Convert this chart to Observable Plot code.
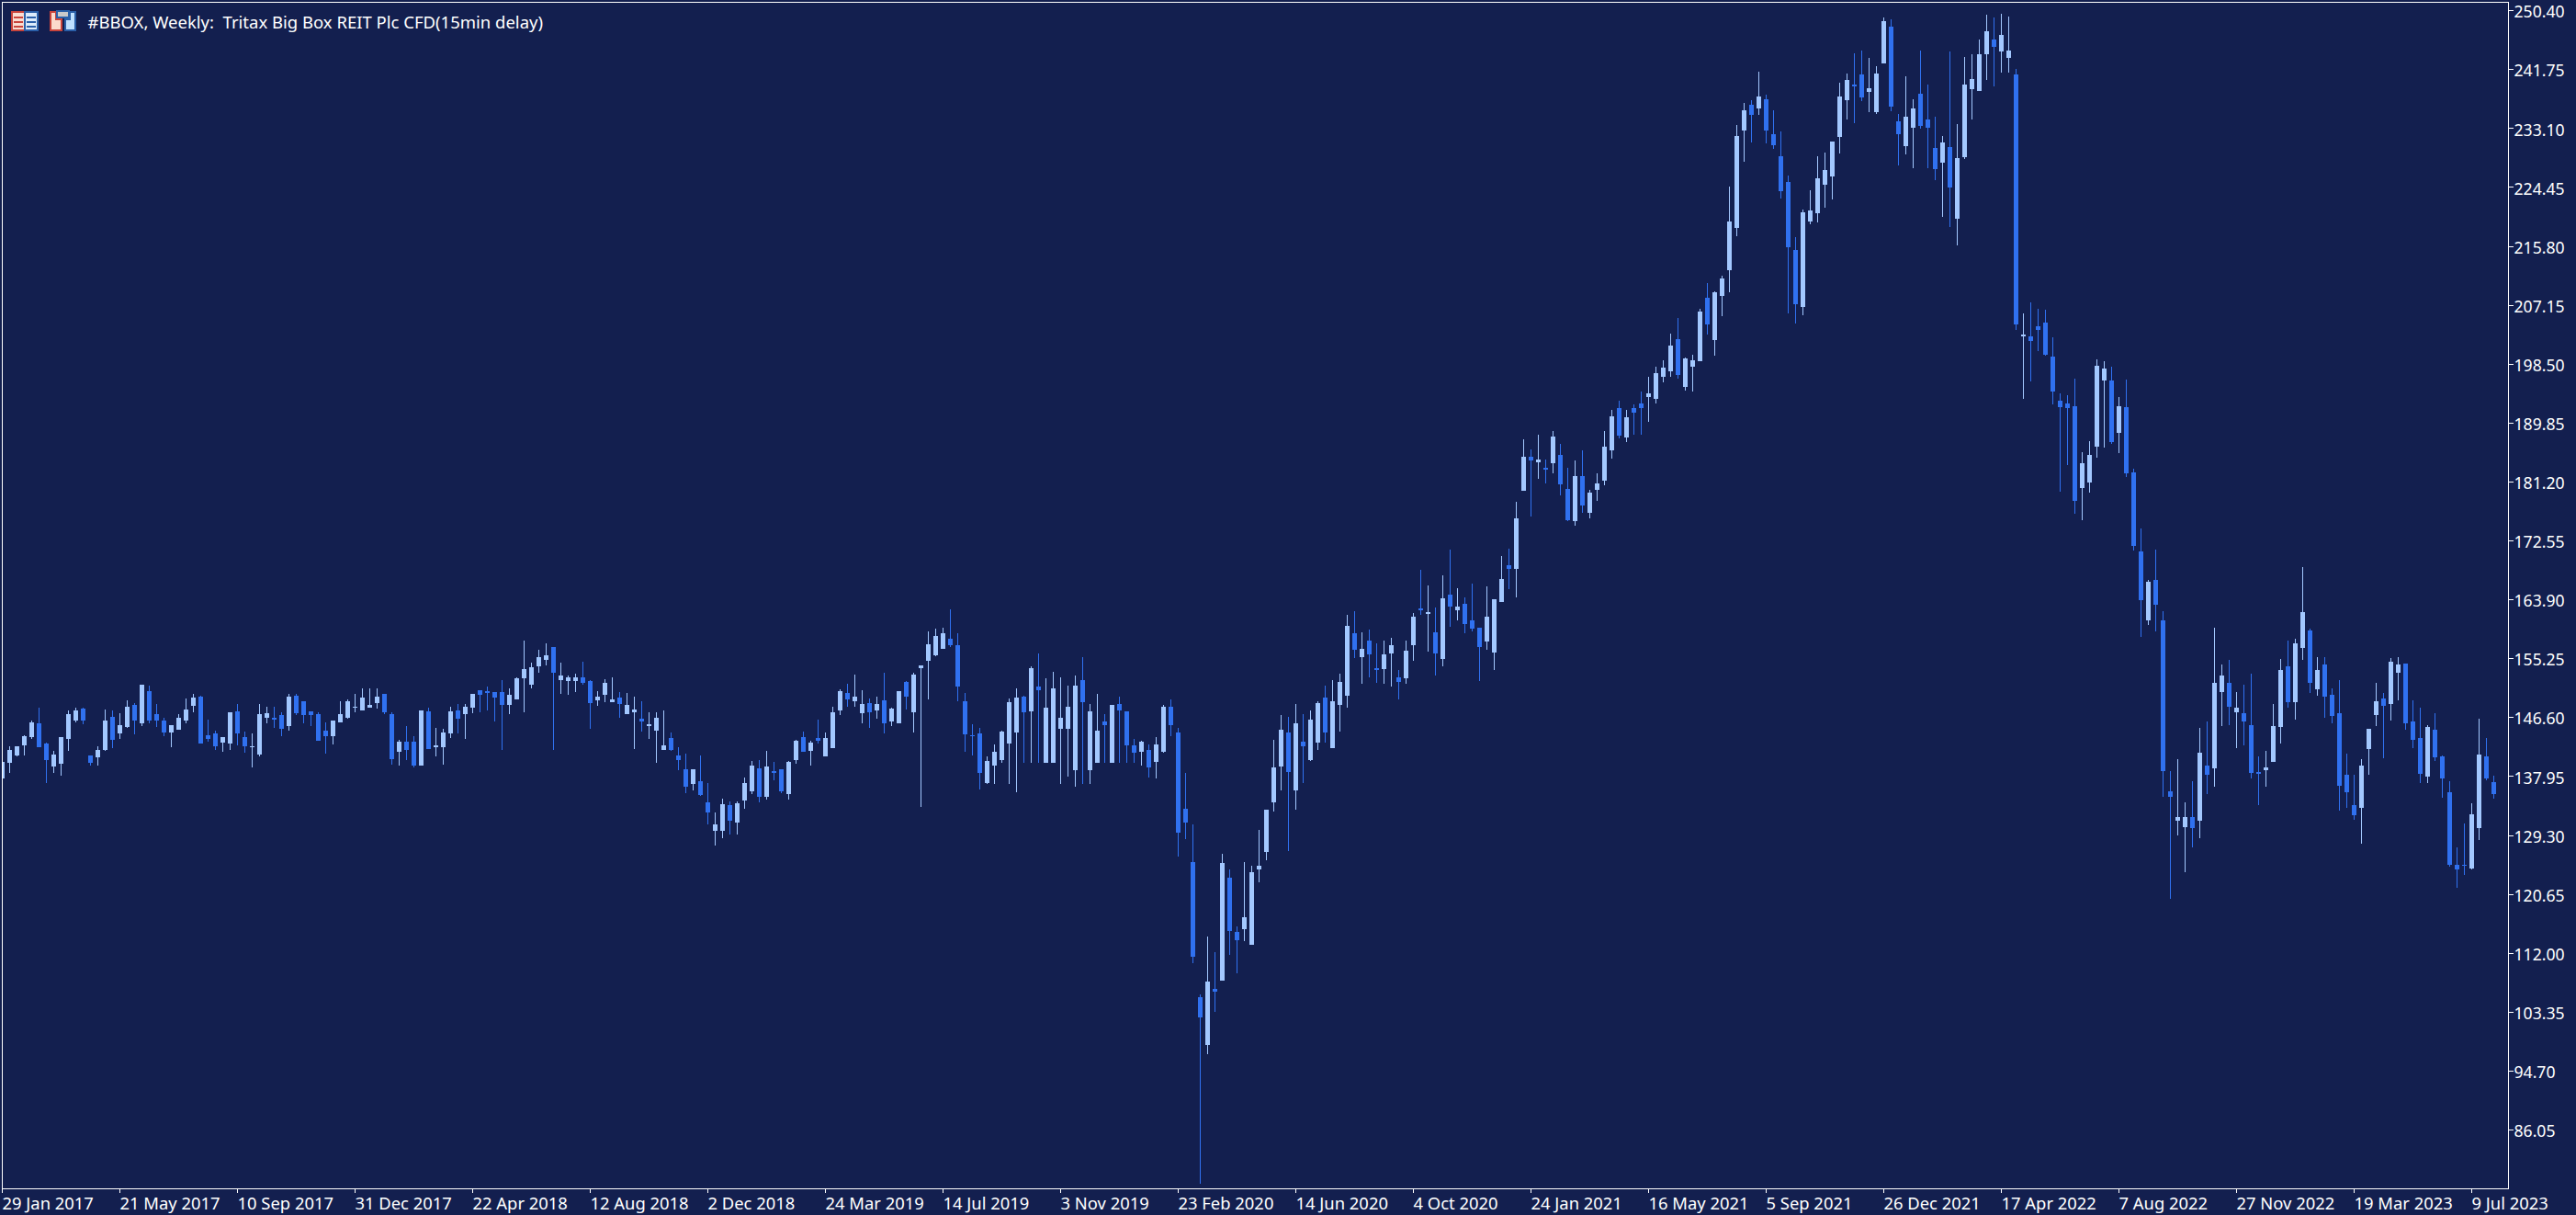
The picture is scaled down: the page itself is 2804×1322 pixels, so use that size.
<!DOCTYPE html>
<html>
<head>
<meta charset="utf-8">
<style>
html,body{margin:0;padding:0;background:#131F4F;overflow:hidden}
#wrap{position:relative;width:2804px;height:1322px}
#icons{position:absolute;left:0;top:0}
#chart svg{display:block;shape-rendering:crispEdges}
</style>
<script src="https://cdn.jsdelivr.net/npm/d3@7"></script>
<script src="https://cdn.jsdelivr.net/npm/@observablehq/plot@0.6"></script>
</head>
<body>
<div id="wrap"><div id="chart"></div>
<svg id="icons" width="90" height="44" shape-rendering="crispEdges">
<rect x="13" y="13" width="14" height="20" fill="#F9DDD2" stroke="#C8443C" stroke-width="2"/>
<rect x="27" y="13" width="14" height="20" fill="#DCEBFA" stroke="#2A5FA8" stroke-width="2"/>
<path d="M15 19h10M15 24h10M15 29h10" stroke="#C8443C" stroke-width="2"/>
<path d="M29 19h10M29 24h10M29 29h10" stroke="#2A5FA8" stroke-width="2"/>
<path d="M55 13h6v8h6v12h-12z" fill="#FBD9CC" stroke="#C8443C" stroke-width="2"/>
<path d="M71 21h5v-8h6v20h-11z" fill="#BFE0FF" stroke="#2A5FA8" stroke-width="2"/>
<rect x="62" y="12" width="13" height="7" fill="#C9C9C9" stroke="#2A5FA8" stroke-width="2"/>
</svg>
</div>
<script>
const chartTitle = "#BBOX, Weekly:  Tritax Big Box REIT Plc CFD(15min delay)";
const firstWeek = "2017-01-29";
const priceTicks = [250.40,241.75,233.10,224.45,215.80,207.15,198.50,189.85,181.20,172.55,163.90,155.25,146.60,137.95,129.30,120.65,112.00,103.35,94.70,86.05];
const dateTicks = ["2017-01-29","2017-05-21","2017-09-10","2017-12-31","2018-04-22","2018-08-12","2018-12-02","2019-03-24","2019-07-14","2019-11-03","2020-02-23","2020-06-14","2020-10-04","2021-01-24","2021-05-16","2021-09-05","2021-12-26","2022-04-17","2022-08-07","2022-11-27","2023-03-19","2023-07-09"];
// each week: [open, high, low, close]
const weeks2017 = [[137.6,140.0,137.6,140.0],[139.9,142.3,138.4,141.8],[141.0,142.3,140.8,142.3],[142.5,143.9,141.0,143.8],[143.7,146.1,143.4,145.8],[145.7,148.0,142.2,142.2],[142.7,142.9,136.9,140.3],[139.4,141.6,138.4,141.1],[139.8,143.7,138.0,143.7],[143.4,147.6,141.6,147.0],[146.1,148.0,145.8,147.6],[147.9,148.0,145.6,146.1],[141.0,141.0,139.5,139.9],[140.7,142.3,139.5,141.8],[141.8,147.7,141.6,146.1],[146.6,147.6,142.1,143.3],[144.2,147.2,143.4,145.4],[145.2,149.1,145.0,148.1],[148.4,148.7,144.1,146.1],[145.7,151.4,145.3,151.4],[150.4,151.2,145.7,146.1],[147.0,148.5,145.2,146.1],[146.1,146.5,143.8,144.4],[144.4,145.4,142.2,145.4],[144.8,147.0,144.8,146.5],[146.1,149.3,145.7,147.7],[148.3,150.0,147.3,149.5],[149.6,149.7,142.7,142.7],[143.9,146.2,143.0,143.4],[144.2,144.6,141.8,142.3],[142.9,143.7,141.5,143.7],[142.7,147.3,141.8,147.3],[147.5,148.5,142.5,144.2],[143.7,144.5,141.4,142.3],[142.2,144.2,139.2,142.3],[141.1,148.5,140.8,147.0],[146.5,148.1,145.7,147.2],[146.5,148.1,145.0,146.2],[146.9,147.3,143.8,144.9],[145.3,150.0,144.6,149.6],[149.7,150.0,146.9,147.2],[148.9,148.9,145.7,146.9],[147.5,147.5,145.3,146.9],[147.0,147.3,143.1,143.1],[144.6,145.8,141.2,143.8],[143.8,146.1,142.6,146.1],[145.8,148.9,145.8,147.0],[146.5,149.2,146.4,148.9]];
const weeks2018 = [[148.0,150.0,147.3,148.1],[147.6,150.8,147.6,149.5],[148.0,150.8,148.0,148.4],[148.7,150.8,147.9,149.6],[150.0,150.0,147.0,147.3],[147.0,147.3,139.6,140.4],[141.5,143.3,139.5,143.0],[143.0,145.3,140.3,141.8],[143.0,143.8,139.2,139.5],[139.5,147.6,139.5,147.6],[147.5,148.0,141.9,141.9],[142.2,145.0,140.8,142.5],[142.2,144.9,139.6,144.4],[144.2,148.1,143.5,147.5],[147.6,148.5,144.2,146.4],[147.0,148.5,143.4,148.1],[148.0,150.0,147.2,150.0],[150.6,150.6,147.3,149.9],[150.4,151.1,147.6,150.2],[150.3,150.3,146.0,149.5],[150.3,152.0,141.8,148.4],[148.4,150.8,147.0,149.9],[149.2,152.4,149.2,152.3],[152.3,157.8,147.3,153.7],[151.4,154.6,150.8,153.9],[154.1,156.5,153.1,155.4],[155.0,157.4,154.2,155.7],[156.9,156.9,141.8,153.1],[152.0,154.6,150.0,152.7],[151.9,152.7,149.9,152.4],[151.9,153.0,150.3,152.4],[152.4,154.7,151.4,151.6],[151.9,152.0,144.9,148.7],[149.1,150.4,148.3,149.6],[149.9,152.2,148.8,151.6],[148.8,152.4,148.8,149.2],[149.5,150.3,146.5,148.5],[147.0,150.2,147.0,148.4],[147.3,149.6,141.9,147.7],[146.4,148.9,144.5,146.0],[145.3,147.3,143.4,145.6],[144.6,147.3,139.9,146.5],[141.8,147.6,141.8,142.5],[143.5,144.4,141.6,141.8],[141.0,142.2,138.8,140.3],[139.0,141.2,135.4,136.4],[136.8,139.0,135.8,139.0],[137.2,141.0,135.0,135.2],[134.1,136.9,130.9,132.6],[129.9,132.6,127.8,130.9],[129.9,134.6,128.8,133.8],[133.7,134.2,129.4,131.4],[131.1,134.2,129.4,134.0]];
const weeks2019 = [[134.4,137.7,133.2,136.9],[135.7,140.2,135.3,139.5],[139.1,140.3,134.1,134.9],[134.9,141.6,134.5,139.4],[138.7,140.0,137.3,138.4],[139.0,139.0,135.4,135.7],[135.3,140.2,134.5,140.0],[140.3,143.3,139.8,143.1],[143.7,144.5,141.5,141.5],[141.6,143.1,139.5,142.9],[143.5,146.2,142.7,143.1],[140.8,144.4,140.8,143.5],[142.0,148.1,142.0,147.3],[147.6,150.7,146.9,150.4],[150.1,151.5,148.1,149.2],[148.9,152.8,148.1,149.6],[147.2,150.6,145.7,148.5],[148.7,149.3,145.0,147.3],[147.6,149.6,146.4,148.5],[149.1,153.1,144.2,145.7],[146.0,148.0,145.3,147.9],[145.7,150.4,145.7,150.4],[151.8,151.9,147.7,149.6],[147.3,153.1,144.3,152.8],[153.8,154.2,133.4,154.2],[154.9,159.2,149.2,157.3],[155.7,159.6,155.5,158.5],[156.6,159.7,156.6,158.9],[158.1,162.4,156.9,157.2],[157.2,158.9,148.9,151.1],[148.9,150.1,141.5,144.1],[143.9,145.6,141.0,143.8],[144.2,145.0,136.0,138.4],[136.9,140.8,136.8,140.2],[139.5,142.6,136.8,141.5],[140.3,144.6,139.9,144.5],[142.7,149.3,136.8,148.8],[144.3,150.8,135.6,149.5],[149.6,149.7,139.9,147.3],[147.5,154.1,139.9,153.8],[151.1,155.9,139.9,150.6],[139.9,152.3,139.9,148.0],[139.9,153.3,139.9,150.8],[144.9,152.4,136.8,146.5],[144.9,151.2,137.9,148.1],[138.8,152.7,136.4,151.2],[152.0,155.4,136.8,148.8],[138.8,148.5,136.8,147.5],[139.9,150.0,139.9,144.6],[146.0,147.0,139.9,145.4],[139.9,148.4,139.9,148.4],[148.5,149.6,139.9,147.6]];
const weeks2020 = [[147.5,147.5,139.9,142.4],[142.4,143.4,139.9,141.4],[141.5,143.1,139.5,143.0],[141.8,142.6,137.7,139.2],[140.0,143.7,137.6,142.6],[141.5,148.4,141.4,148.1],[148.1,149.2,143.8,145.4],[144.3,145.0,126.1,129.6],[133.2,138.4,128.7,131.1],[125.3,130.8,110.5,111.4],[105.5,105.9,78.1,102.5],[98.5,114.4,97.1,107.8],[106.7,112.1,103.3,106.3],[107.9,126.6,107.9,125.2],[123.0,124.2,111.7,115.2],[115.0,115.9,109.0,113.9],[115.5,125.3,113.7,117.2],[113.2,124.8,113.2,123.8],[124.2,130.0,122.4,124.8],[126.8,133.0,125.6,133.0],[134.1,143.3,132.8,139.2],[139.4,146.9,135.9,144.7],[144.4,146.6,126.9,138.5],[135.9,148.6,133.0,145.7],[143.0,147.1,136.9,142.3],[140.3,147.6,140.1,146.2],[142.9,148.9,141.8,148.7],[149.5,151.2,142.9,144.4],[142.1,152.0,142.1,148.9],[148.4,153.0,144.5,151.8],[149.7,161.6,148.0,160.0],[158.9,162.2,155.3,156.5],[155.4,159.1,151.5,156.6],[157.8,159.5,152.4,155.8],[153.8,157.4,151.6,153.5],[153.7,157.8,151.5,155.8],[155.9,158.2,151.1,157.2],[152.4,153.5,149.2,151.8],[152.3,157.8,151.5,156.3],[157.2,161.9,154.9,161.3],[162.6,168.2,161.6,162.3],[161.8,165.9,156.2,162.0],[159.1,162.7,152.7,155.9],[155.1,167.4,154.1,164.0],[164.6,171.2,159.9,162.8],[162.3,165.5,160.8,162.8],[163.2,164.2,158.9,160.3],[160.8,166.2,159.2,159.6],[159.7,159.7,151.9,156.9],[157.7,165.8,156.5,161.3],[156.1,163.9,153.5,163.9],[163.5,170.3,163.5,166.9]];
const weeks2021 = [[168.9,171.3,165.4,168.4],[168.4,178.2,164.2,175.8],[179.8,187.4,179.8,184.8],[184.8,185.9,176.1,184.3],[184.0,188.1,181.6,184.4],[183.2,184.4,180.9,182.9],[183.9,188.6,182.4,187.8],[185.1,186.7,179.2,180.8],[180.1,183.2,175.4,175.5],[175.4,184.3,174.7,182.0],[182.0,185.8,176.6,177.7],[176.6,180.0,175.8,179.6],[180.0,182.4,178.4,180.9],[181.3,188.6,180.6,186.3],[185.8,191.7,184.6,190.8],[192.0,193.1,187.5,187.9],[187.7,191.7,187.0,190.6],[192.0,192.5,188.1,191.3],[192.7,194.4,188.1,192.0],[193.6,196.6,190.0,194.2],[193.3,198.1,192.7,197.1],[196.6,199.0,195.8,197.9],[197.4,202.9,196.6,201.2],[202.1,205.2,196.3,196.8],[195.1,199.4,194.6,199.3],[198.1,199.8,194.4,199.0],[198.9,206.6,198.9,206.2],[208.2,210.3,202.8,204.3],[202.0,209.1,199.7,209.0],[208.4,211.4,205.5,211.0],[212.2,224.5,209.0,219.4],[218.4,233.6,217.2,231.9],[232.7,236.8,228.2,235.7],[236.5,237.2,231.0,235.0],[236.0,241.4,235.0,237.7],[237.3,238.0,230.9,232.7],[232.2,235.7,230.0,230.6],[229.0,232.6,222.7,223.8],[225.2,226.1,205.9,215.6],[215.2,217.1,204.4,207.2],[206.8,221.1,205.6,220.7],[219.4,224.0,219.0,221.0],[220.6,229.0,219.2,225.7],[224.8,229.5,221.4,226.9],[226.0,231.1,222.6,231.1],[231.8,239.8,229.4,237.7],[237.2,241.1,234.4,240.2],[239.5,244.1,233.8,239.2],[241.0,244.5,237.1,237.6],[238.4,243.4,235.4,239.0],[235.4,242.2,235.2,241.1],[242.6,249.3,242.6,248.8]];
const weeks2022 = [[248.0,249.1,235.6,236.3],[234.1,235.2,227.6,232.2],[230.4,240.7,229.2,234.8],[233.1,237.3,227.2,236.0],[238.1,244.5,233.0,233.4],[234.4,239.5,227.2,233.1],[230.2,234.8,225.4,227.1],[228.0,231.9,220.0,231.0],[230.3,244.4,218.6,224.4],[219.8,233.7,215.9,228.7],[228.8,243.5,228.6,239.5],[238.8,243.9,234.4,240.3],[238.5,246.1,238.5,243.9],[243.9,249.7,240.2,247.3],[246.1,249.3,239.2,245.0],[244.3,249.9,241.2,246.8],[243.4,249.5,241.2,244.5],[241.0,241.8,203.5,204.3],[202.5,205.9,193.3,202.8],[202.5,207.5,195.9,201.8],[204.0,206.6,200.4,203.5],[204.5,206.4,199.7,199.8],[199.5,202.4,192.5,194.4],[193.1,194.1,179.7,192.1],[192.7,193.9,183.6,192.0],[192.3,196.3,176.5,178.4],[180.2,185.5,175.5,183.9],[181.1,187.1,179.6,185.1],[186.3,199.1,184.7,198.2],[196.0,198.9,186.2,197.8],[196.0,198.1,186.7,187.0],[188.3,193.6,185.4,192.3],[192.1,196.2,181.9,182.4],[182.5,183.1,171.1,171.7],[170.9,174.3,158.4,163.8],[160.8,166.7,160.1,166.5],[166.7,171.2,159.2,163.1],[160.8,162.2,134.9,138.7],[135.7,138.7,119.9,134.9],[131.4,140.4,129.2,131.9],[130.4,134.1,123.8,132.0],[131.9,137.2,127.5,130.3],[131.4,145.0,128.8,141.4],[139.5,146.0,135.3,138.1],[139.1,159.7,136.4,151.6],[150.3,154.3,145.3,152.7],[151.6,155.0,145.4,148.1],[147.3,150.3,142.0,148.0],[147.2,151.4,142.4,146.0],[145.4,153.0,137.6,138.4],[138.5,140.8,133.7,138.3],[138.8,141.6,136.4,139.2]];
const weeks2023 = [[140.0,148.5,140.0,145.3],[145.1,155.1,142.7,153.5],[154.1,157.8,148.0,148.8],[148.8,158.1,146.2,157.4],[156.8,168.6,155.0,162.0],[159.3,159.6,150.1,151.6],[150.7,155.4,149.7,153.5],[154.3,155.4,146.5,149.6],[149.9,150.8,145.7,146.8],[147.2,152.0,132.9,136.5],[138.1,141.2,133.3,135.6],[133.7,138.1,131.5,132.2],[133.3,140.4,128.0,139.5],[141.9,144.9,138.1,144.9],[146.9,151.6,145.3,148.9],[149.3,150.1,140.6,148.2],[148.5,155.3,146.1,154.7],[153.1,155.4,149.1,154.3],[154.5,154.5,144.7,145.7],[146.0,149.1,142.0,143.3],[143.5,148.0,136.9,138.3],[137.9,145.4,136.9,145.1],[144.7,147.2,140.2,140.7],[140.8,141.0,134.7,137.6],[135.6,137.2,124.6,124.9],[124.9,127.5,121.5,124.2],[124.9,131.0,123.4,124.8],[124.4,133.9,124.2,132.3],[130.3,146.4,128.5,141.1],[140.8,143.5,137.3,137.6],[137.1,138.0,134.6,135.3]];

const upColor = "#A3C8FF", downColor = "#3071F0", ink = "#FFFFFF", bg = "#131F4F";
const font = "'Noto Sans', sans-serif";
const start = new Date(firstWeek);
const candles = [...weeks2017,...weeks2018,...weeks2019,...weeks2020,...weeks2021,...weeks2022,...weeks2023]
  .map(([open,high,low,close],i)=>({date:d3.utcDay.offset(start,7*i),open,high,low,close,color:close>=open?upColor:downColor}));

const chart = Plot.plot({
  width:2804,height:1322,
  marginLeft:2,marginTop:2,marginRight:74,marginBottom:29,
  style:{background:bg,fontFamily:font,fontSize:"17.6px",color:ink},
  x:{type:"utc",domain:[start,d3.utcDay.offset(start,7*341)]},
  y:{domain:[77.41,251.64]},
  marks:[
    Plot.ruleX(candles,{x:"date",y1:"low",y2:"high",stroke:"color",strokeWidth:1,clip:true}),
    Plot.ruleX(candles,{x:"date",y1:"open",y2:"close",stroke:"color",strokeWidth:5,clip:true}),
    Plot.frame({stroke:ink,strokeWidth:1}),
    Plot.axisY({anchor:"right",ticks:priceTicks,tickSize:5,text:null,label:null,stroke:ink}),
    Plot.axisY({anchor:"right",ticks:priceTicks,tickFormat:d=>d.toFixed(2),tickSize:0,tickPadding:6,dy:2,label:null,fill:ink,fontSize:17.6}),
    Plot.axisX({anchor:"bottom",ticks:dateTicks.map(d=>new Date(d)),tickSize:5,text:null,label:null,stroke:ink}),
    Plot.axisX({anchor:"bottom",ticks:dateTicks.map(d=>new Date(d)),tickFormat:d3.utcFormat("%-d %b %Y"),tickSize:0,tickPadding:9,textAnchor:"start",label:null,fill:ink,fontSize:18.4,lineAnchor:"top"}),
    Plot.text([chartTitle],{frameAnchor:"top-left",dx:93,dy:15,fill:ink,fontSize:18.5,textAnchor:"start",lineAnchor:"top",style:"white-space:pre"})
  ]
});
document.getElementById("chart").appendChild(chart);
</script>
</body>
</html>
